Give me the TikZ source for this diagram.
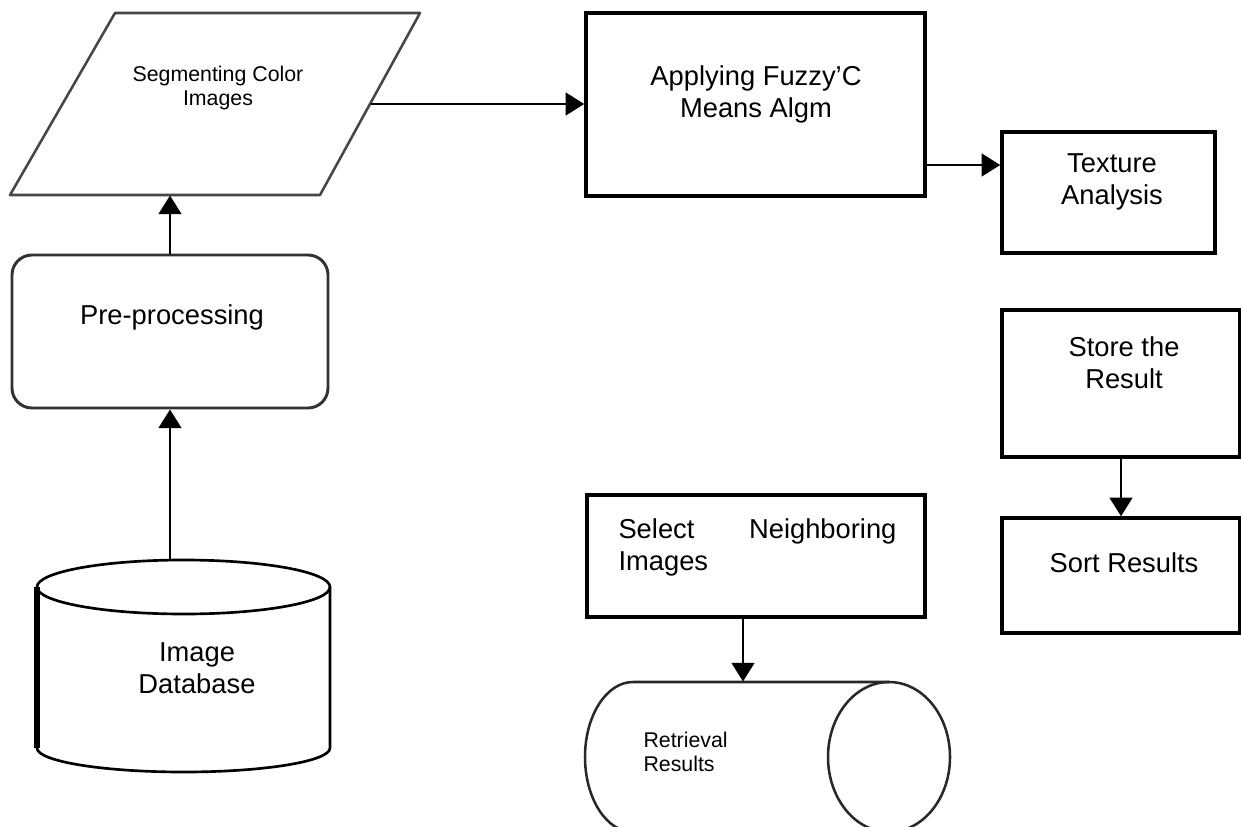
\documentclass[tikz,border=0pt]{standalone}
\usepackage{fontspec}
\setmainfont{Liberation Sans}
\usetikzlibrary{arrows.meta}

\tikzset{every picture/.style={line width=0.75pt}}
\tikzset{
  blk/.style={draw, line width=2.6pt, inner sep=0pt},
  ghost/.style={inner sep=0pt},
  cnx/.style={line width=1.9pt, -{Triangle[length=14pt,width=17pt]}},
  bigtxt/.style={inner sep=0.75pt, align=center, font=\fontsize{20.5}{24}\selectfont},
  smalltxt/.style={inner sep=0.75pt, align=left, font=\fontsize{16}{18.5}\selectfont}
}

\begin{document}
\begin{tikzpicture}[x=0.75pt,y=0.75pt,yscale=-1,xscale=1]
		\clip (0,0) rectangle (1241,827);
		\fill[white] (0,0) rectangle (1241,827);

		%Shape: Parallelogram
		\draw [color={rgb, 255:red, 70; green, 70; blue, 70 }, line width=1.9pt, line join=round] (115,13) -- (420,13) -- (320,195) -- (10,195) -- cycle;
		\node [ghost, minimum width=228.75pt, minimum height=136.5pt] (seg) at (217.5,104) {};
		%Shape: Rectangle
		\node [blk, minimum width=254.25pt, minimum height=137.25pt] (fcm) at (755.5,104.5) {};
		%Shape: Rectangle
		\node [blk, minimum width=159.75pt, minimum height=90.75pt] (tex) at (1108.5,192.5) {};
		%Shape: Rectangle
		\node [blk, minimum width=178.5pt, minimum height=110.25pt] (store) at (1121,383.5) {};
		%Shape: Rectangle
		\node [blk, minimum width=178.5pt, minimum height=86.25pt] (sort) at (1121,575.5) {};
		%Rounded Rect
		\node [draw, color={rgb, 255:red, 50; green, 50; blue, 50 }, line width=2.2pt, rounded corners=15pt, minimum width=237pt, minimum height=114.75pt, inner sep=0pt] (pre) at (170,331.5) {};
		%Shape: Rectangle
		\node [blk, minimum width=253.5pt, minimum height=91.5pt] (sel) at (756,556) {};

		%Shape: Can
		\draw [line width=2pt] (183.5,587) ellipse [x radius=146.5, y radius=27];
		\draw [line width=2pt] (37,587) -- (37,748) arc [start angle=180, end angle=0, x radius=146.5, y radius=24] -- (330,587);
		\draw [line width=4pt] (37,587) -- (37,748);
		\node [ghost, minimum width=219.75pt, minimum height=159pt] (db) at (183.5,666) {};

		%Shape: Can
		\draw [color={rgb, 255:red, 40; green, 40; blue, 40 }, line width=1.9pt] (889,682) -- (633,682) arc [start angle=270, end angle=90, x radius=48, y radius=75] -- (889,832);
		\draw [color={rgb, 255:red, 40; green, 40; blue, 40 }, line width=1.9pt] (889,757) ellipse [x radius=61, y radius=75];
		\node [ghost, minimum width=273.75pt, minimum height=112.5pt] (ret) at (767.5,757) {};

		\coordinate (rowtex) at (0,165);
		\coordinate (colret) at (743,0);

		%Straight Lines
		\draw [cnx] (seg.east) -- (fcm.west |- seg.east);
		%Straight Lines
		\draw [cnx] (fcm.east |- rowtex) -- (tex.west |- rowtex);
		%Straight Lines
		\draw [cnx] (store.south) -- (sort.north);
		%Straight Lines
		\draw [cnx] (sel.south -| colret) -- (ret.north -| colret);
		%Straight Lines
		\draw [cnx] (pre.south |- db.north) -- (pre.south);
		%Straight Lines
		\draw [cnx] (pre.north) -- (pre.north |- seg.south);

		% Text Node
		\node [smalltxt, align=center] (tseg) at (218,88) {Segmenting Color\\Images};
		% Text Node
		\node [bigtxt] (tfcm) at (756,94) {Applying Fuzzy'C\\Means Algm};
		% Text Node
		\node [bigtxt] (ttex) at (1112,182) {Texture\\Analysis};
		% Text Node
		\node [bigtxt] (tstore) at (1124,363) {Store the\\Result};
		% Text Node
		\node [bigtxt] (tsort) at (1124,563) {Sort Results};
		% Text Node
		\node [bigtxt] (tpre) at (172,317) {Pre-processing};
		% Text Node
		\node [bigtxt] (tdb) at (197,668) {Image\\Database};
		% Text Node
		\node [bigtxt, align=left, anchor=west, text width=208.5pt] (tsel) at (617,547) {Select\hfill Neighboring\\Images};
		% Text Node
		\node [smalltxt, anchor=west] (tret) at (642,752) {Retrieval\\Results};
	\end{tikzpicture}
\end{document}
